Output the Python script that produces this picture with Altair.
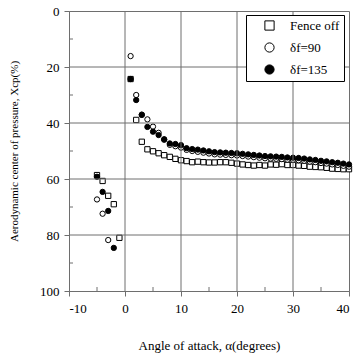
import altair as alt
import pandas as pd

alpha_fence = [-5, -4, -3, -2, -1] + list(range(1, 41))
xcp_fence = [58.6, 60.7, 66.0, 69.0, 81.0,
             24.3, 38.9, 46.7, 49.4, 50.1, 50.8, 51.5, 52.1, 52.8, 53.3,
             53.6, 54.0, 53.8, 54.0, 54.1, 54.1, 54.0, 54.0, 54.2, 54.5,
             54.8, 55.0, 55.2, 55.0, 55.2, 54.8, 54.9, 54.7, 55.0, 55.0,
             55.2, 55.3, 55.6, 55.7, 55.8, 56.0, 56.3, 56.4, 56.5, 56.5]

alpha_90 = [-5, -4, -3] + list(range(1, 41))
xcp_90 = [67.3, 72.4, 81.8,
          16.1, 30.0, 37.0, 38.7, 41.3, 43.5, 46.0, 47.8, 48.3, 48.8,
          49.6, 50.0, 50.3, 50.6, 50.9, 51.2, 51.3, 51.4, 51.5, 51.6,
          51.8, 52.0, 52.2, 52.4, 52.6, 52.7, 52.8, 52.9, 53.1, 53.2,
          53.3, 53.5, 53.8, 54.0, 54.3, 54.5, 54.8, 55.0, 55.3, 55.6]

alpha_135 = [-5, -4, -3, -2] + list(range(1, 41))
xcp_135 = [59.2, 64.6, 71.4, 84.6,
           24.3, 31.8, 37.1, 41.4, 43.1, 44.3, 45.8, 47.3, 47.5, 47.9,
           49.0, 49.3, 49.5, 49.8, 50.1, 50.4, 50.5, 50.6, 50.7, 50.8,
           51.0, 51.2, 51.4, 51.6, 51.8, 51.9, 52.0, 52.1, 52.3, 52.4,
           52.5, 52.7, 53.0, 53.2, 53.5, 53.7, 54.0, 54.2, 54.5, 54.8]

series_names = ["Fence off", "δf=90", "δf=135"]

x_major = [-10, 0, 10, 20, 30, 40]
y_major = [0, 20, 40, 60, 80, 100]
grid_x = [0, 10, 20, 30]
grid_y = [20, 40, 60, 80]
minor_x = [-5, 5, 15, 25, 35]
minor_y = [10, 30, 50, 70, 90]

rows = []
for name, xs, ys in [(series_names[0], alpha_fence, xcp_fence),
                     (series_names[1], alpha_90, xcp_90),
                     (series_names[2], alpha_135, xcp_135)]:
    for a, v in zip(xs, ys):
        rows.append({"alpha": a, "xcp": v, "series": name})
df = pd.DataFrame(rows)

font = "Liberation Serif"
gridc = "#6e6e6e"

xscale = alt.Scale(domain=[-10, 40], nice=False, zero=False)
yscale = alt.Scale(domain=[0, 100], reverse=True, nice=False)

x_axis = alt.Axis(
    values=x_major,
    labelExpr="'' + datum.value",
    grid=False,
    tickSize=5,
    tickColor=gridc,
    domainColor=gridc,
    labelFont=font, labelFontSize=13, labelColor="black", labelPadding=6,
    title="Angle of attack,  α(degrees)",
    titleFont=font, titleFontSize=13, titleFontWeight="normal", titleColor="black",
    titleX=140, titleY=54, titleBaseline="middle", titleAlign="center",
)

y_axis = alt.Axis(
    values=y_major,
    grid=False,
    tickSize=5,
    tickColor=gridc,
    domainColor=gridc,
    labelFont=font, labelFontSize=13, labelColor="black", labelPadding=5,
    title="Aerodynamic center of pressure, Xcp(%)",
    titleFont=font, titleFontSize=11, titleFontWeight="normal", titleColor="black",
    titleX=-54.5, titleY=140, titleAngle=-90, titleBaseline="middle", titleAlign="center",
)

legend = alt.Legend(
    title=None, orient="none", legendX=177, legendY=4,
    fillColor="white", strokeColor="black", padding=4, cornerRadius=0,
    symbolSize=85, symbolStrokeColor="black", symbolStrokeWidth=1,
    symbolOffset=13, labelOffset=14, rowPadding=7,
    labelFont=font, labelFontSize=13, labelColor="black",
)

points = alt.Chart(df).mark_point(
    strokeWidth=1, opacity=1, size=28
).encode(
    x=alt.X("alpha:Q", scale=xscale, axis=x_axis),
    y=alt.Y("xcp:Q", scale=yscale, axis=y_axis),
    shape=alt.Shape("series:N", scale=alt.Scale(domain=series_names, range=["square", "circle", "circle"]), legend=legend),
    fill=alt.Fill("series:N", scale=alt.Scale(domain=series_names, range=["white", "white", "black"]), legend=legend),
    stroke=alt.Stroke("series:N", scale=alt.Scale(domain=series_names, range=["black", "black", "black"]), legend=legend),
)

vgrid = alt.Chart(pd.DataFrame({"gx": grid_x})).mark_rule(
    color=gridc, strokeWidth=1
).encode(x=alt.X("gx:Q", scale=xscale, axis=x_axis))

hgrid = alt.Chart(pd.DataFrame({"gy": grid_y})).mark_rule(
    color=gridc, strokeWidth=1
).encode(y=alt.Y("gy:Q", scale=yscale, axis=y_axis))

xminor = alt.Chart(pd.DataFrame({"mx": minor_x})).mark_rule(
    color=gridc, strokeWidth=1
).encode(x=alt.X("mx:Q", scale=xscale, axis=x_axis), y=alt.value(280), y2=alt.value(276))

yminor = alt.Chart(pd.DataFrame({"my": minor_y})).mark_rule(
    color=gridc, strokeWidth=1
).encode(y=alt.Y("my:Q", scale=yscale, axis=y_axis), x=alt.value(0), x2=alt.value(4))

chart = alt.layer(points, vgrid, hgrid, xminor, yminor).properties(
    width=280, height=280,
    autosize=alt.AutoSizeParams(type="none"),
    padding={"left": 69, "top": 11, "right": 5, "bottom": 63},
    background="white",
).configure_view(
    stroke=gridc, strokeWidth=1
)

chart.save("out.html", embed_options={"renderer": "svg", "actions": False})
